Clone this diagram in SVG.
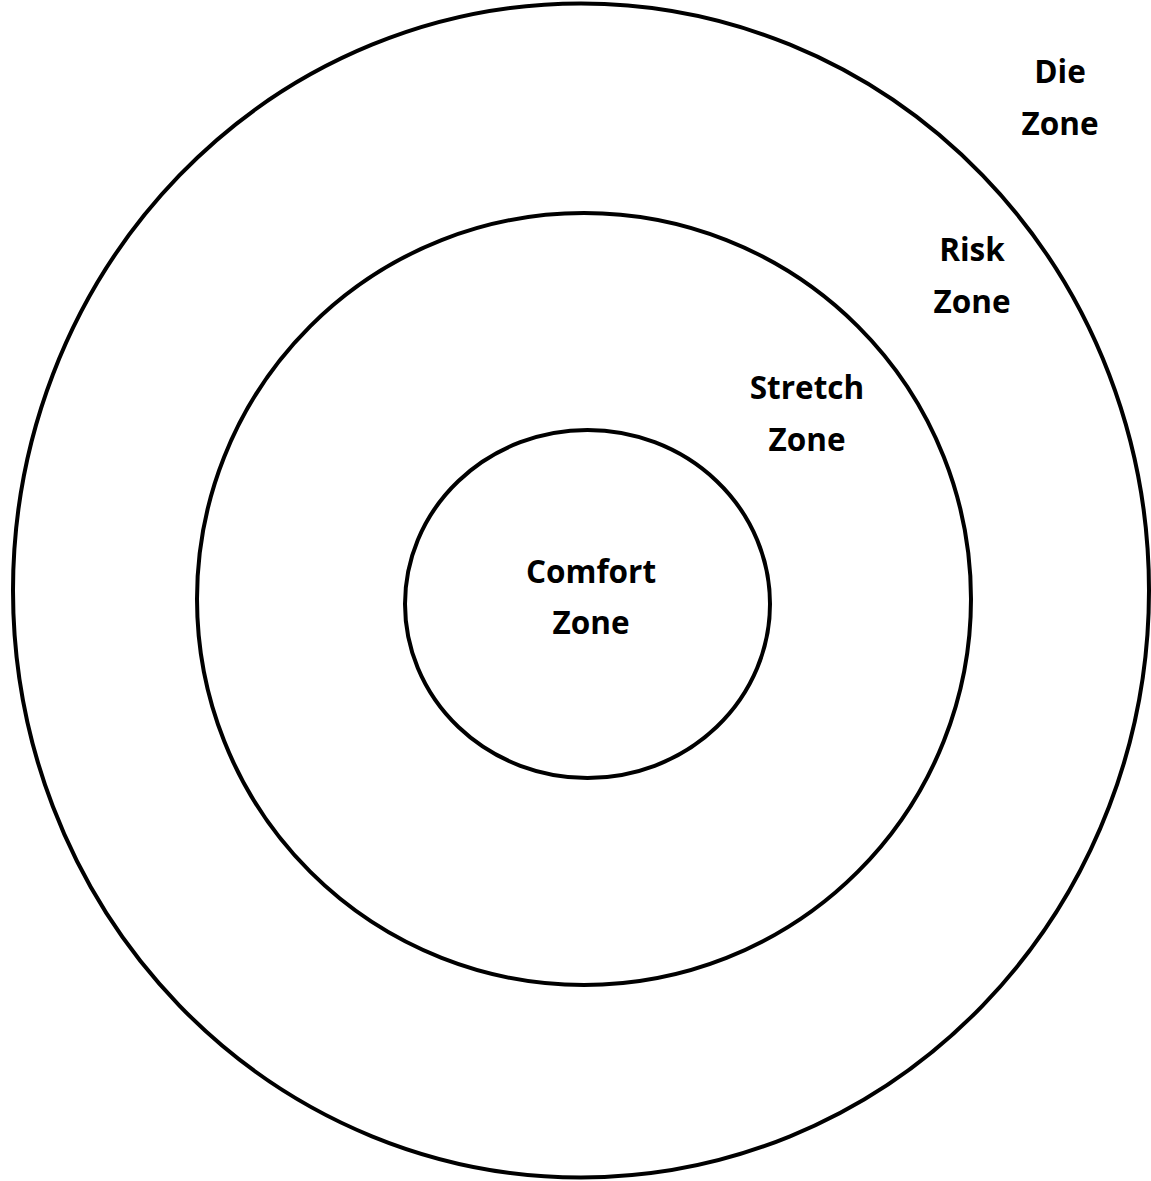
<svg xmlns="http://www.w3.org/2000/svg" width="1151" height="1181" viewBox="0 0 1151 1181">
<style>
.ring{fill:none;stroke:#000;stroke-width:4}
.lbl{font-family:"Open Sans","Liberation Sans",sans-serif;font-weight:bold;font-size:31.5px;fill:#000;text-anchor:middle}
</style>
<rect width="1151" height="1181" fill="#fff"/>
<g id="die-zone">
<ellipse class="ring" cx="581" cy="590.5" rx="568" ry="587"/>
<text class="lbl" x="1060" y="83">Die</text>
<text class="lbl" x="1060" y="135">Zone</text>
</g>
<g id="risk-zone">
<ellipse class="ring" cx="584" cy="599" rx="387" ry="386"/>
<text class="lbl" x="972" y="261">Risk</text>
<text class="lbl" x="972" y="313">Zone</text>
</g>
<g id="stretch-zone">
<text class="lbl" x="807" y="399">Stretch</text>
<text class="lbl" x="807" y="451">Zone</text>
</g>
<g id="comfort-zone">
<ellipse class="ring" cx="587.5" cy="604" rx="182.5" ry="174"/>
<text class="lbl" x="591" y="583">Comfort</text>
<text class="lbl" x="591" y="634">Zone</text>
</g>
<g id="connectors"/>
</svg>
